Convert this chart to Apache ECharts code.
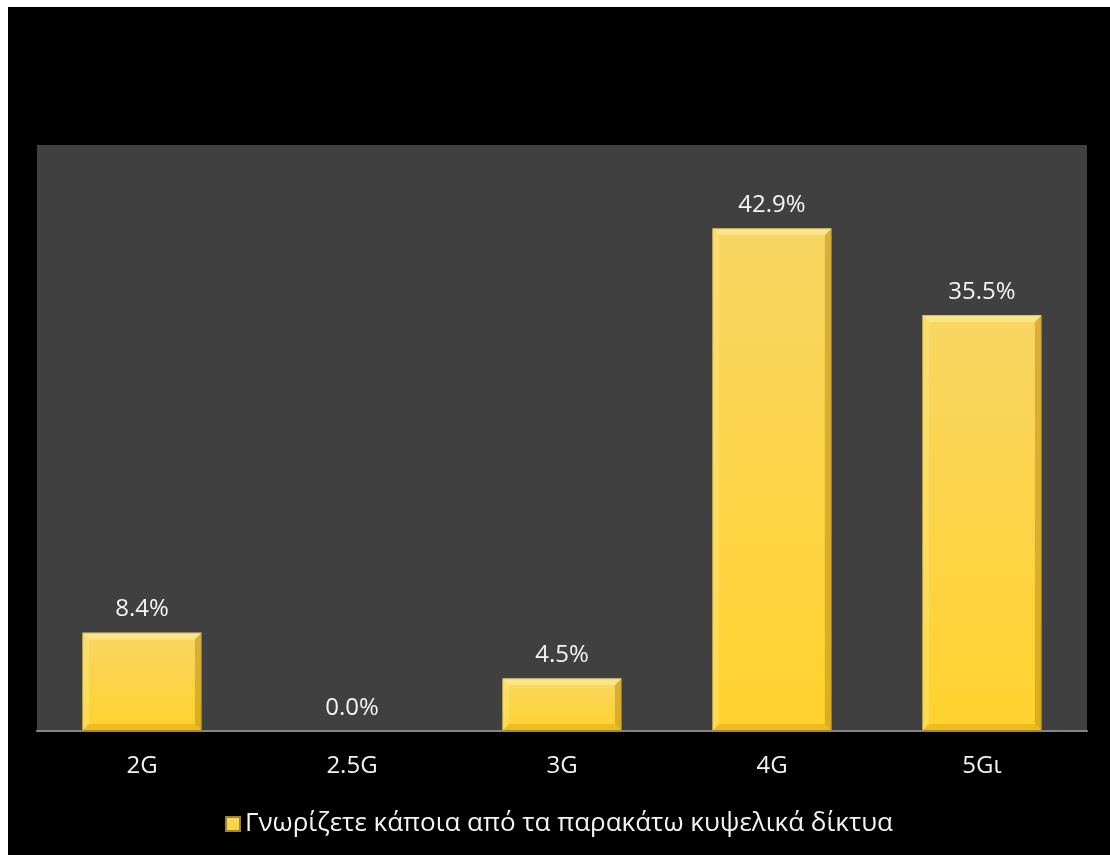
<!DOCTYPE html>
<html>
<head>
<meta charset="utf-8">
<script src="https://cdn.jsdelivr.net/npm/echarts@6/dist/echarts.min.js"></script>
<style>
  html, body { margin: 0; padding: 0; background: #ffffff; width: 1110px; height: 855px; overflow: hidden; }
  #chart { position: absolute; left: 8px; top: 7px; width: 1102px; height: 848px; background: #000000; }
</style>
</head>
<body>
<div id="chart"></div>
<script>
// Network generations and share of respondents who know each one (%)
const categories = ['2G', '2.5G', '3G', '4G', '5Gι'];
const shares = [8.4, 0.0, 4.5, 42.9, 35.5];
const seriesName = 'Γνωρίζετε κάποια από τα παρακάτω κυψελικά δίκτυα';

const FONT = '"Open Sans", Lato, sans-serif';
const BAR_RATIO = 0.57;
const BEVEL = 7;

const barFill = new echarts.graphic.LinearGradient(0, 0, 0, 1, [
  { offset: 0, color: '#F9D663' },
  { offset: 1, color: '#FFD22C' }
]);

// Bevelled edges drawn over each bar, sized from the same value scale
function renderBevel(params, api) {
  const v = api.value(1);
  const top = api.coord([api.value(0), v]);
  const base = api.coord([api.value(0), 0]);
  const w = api.size([1, 0])[0] * BAR_RATIO;
  const x0 = top[0] - w / 2, x1 = top[0] + w / 2;
  const y0 = top[1], y1 = base[1];
  const b = Math.min(BEVEL, (y1 - y0) / 2);
  if (!(b > 1)) return null;
  const poly = (pts, fill) => ({ type: 'polygon', shape: { points: pts }, style: { fill: fill }, silent: true });
  return {
    type: 'group',
    children: [
      poly([[x0, y0], [x1, y0], [x1 - b, y0 + b], [x0 + b, y0 + b]], 'rgba(255,240,170,0.55)'),
      poly([[x0, y0], [x0 + b, y0 + b], [x0 + b, y1 - b], [x0, y1]], 'rgba(255,235,140,0.35)'),
      poly([[x1, y0], [x1, y1], [x1 - b, y1 - b], [x1 - b, y0 + b]], 'rgba(175,130,10,0.45)'),
      poly([[x0, y1], [x0 + b, y1 - b], [x1 - b, y1 - b], [x1, y1]], 'rgba(200,150,10,0.35)')
    ]
  };
}

const chart = echarts.init(document.getElementById('chart'), null, { renderer: 'canvas' });
chart.setOption({
  backgroundColor: '#000000',
  animation: false,
  grid: {
    left: 29, right: 23, top: 138, bottom: 124,
    show: true, backgroundColor: '#404040', borderWidth: 0
  },
  legend: {
    data: [{ name: seriesName, icon: 'rect' }],
    left: 'center', top: 799,
    itemWidth: 14, itemHeight: 14, itemGap: 6,
    textStyle: { color: '#f4f4f4', fontSize: 26, fontFamily: FONT }
  },
  xAxis: {
    type: 'category',
    data: categories,
    axisLine: { lineStyle: { color: '#858585', width: 2 } },
    axisTick: { show: false },
    axisLabel: { color: '#f4f4f4', fontSize: 24, fontFamily: FONT, margin: 23 }
  },
  yAxis: {
    type: 'value', min: 0, max: 50, interval: 10,
    show: false,
    splitLine: { show: false }
  },
  series: [{
    name: seriesName,
    type: 'bar',
    data: shares.map(v => ({ value: v, itemStyle: { borderWidth: v > 0 ? 1 : 0 } })),
    barWidth: (BAR_RATIO * 100) + '%',
    z: 2,
    itemStyle: { color: barFill, borderColor: '#9C8530', borderWidth: 1 },
    label: {
      show: true, position: 'top', distance: 11,
      color: '#f4f4f4', fontSize: 24, fontFamily: FONT,
      formatter: p => p.value.toFixed(1) + '%'
    }
  }, {
    type: 'custom',
    name: 'bevel',
    data: shares.map((v, i) => [i, v]),
    renderItem: renderBevel,
    z: 3,
    silent: true,
    tooltip: { show: false }
  }]
});
</script>
</body>
</html>
